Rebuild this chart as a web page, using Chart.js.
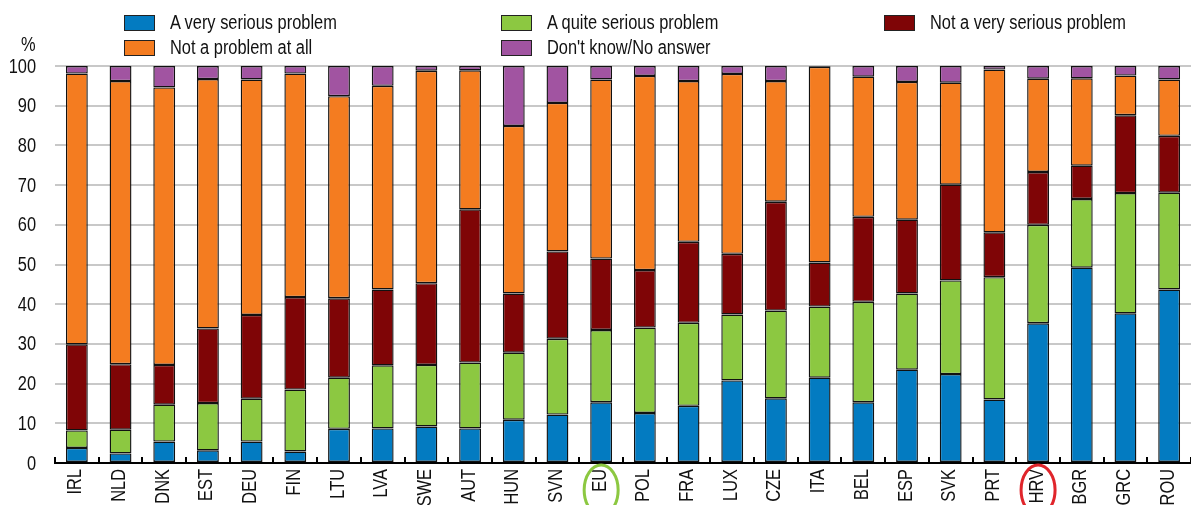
<!DOCTYPE html>
<html>
<head>
<meta charset="utf-8">
<script src="https://cdn.jsdelivr.net/npm/chart.js@4.4.1/dist/chart.umd.min.js"></script>
<style>
body{margin:0;background:#fff;}
#wrap{position:relative;width:1191px;height:505px;overflow:hidden;font-family:"Liberation Sans",Arial,sans-serif;}
#wrap canvas{position:absolute;left:0;top:0;}
.lg{position:absolute;font-size:20px;line-height:20px;color:#111;white-space:nowrap;}
.lg i{position:absolute;width:29px;height:14px;border:1px solid #222;left:-46px;top:3px;}
.lg span{display:inline-block;transform:scaleX(0.82);transform-origin:0 50%;}
#pct{position:absolute;left:21px;top:33px;font-size:20px;color:#111;transform:scaleX(0.82);transform-origin:0 50%;}
</style>
</head>
<body>
<div id="wrap">
<canvas id="chart" width="1191" height="505"></canvas>
<div id="pct">%</div>
<div id="legend"></div>
</div>
<script>
// categories and series (share of respondents, %)
const countries=['IRL','NLD','DNK','EST','DEU','FIN','LTU','LVA','SWE','AUT','HUN','SVN','EU','POL','FRA','LUX','CZE','ITA','BEL','ESP','SVK','PRT','HRV','BGR','GRC','ROU']
const verySerious=[3.8,2.4,5.4,3.2,5.4,2.9,8.6,8.7,9.2,8.7,10.9,12.2,15.3,12.6,14.4,20.8,16.3,21.5,15.3,23.5,22.4,16.0,35.2,49.2,37.7,43.7]
const quiteSerious=[4.4,6.0,9.3,11.9,10.8,15.6,12.9,15.9,15.5,16.6,16.9,19.1,18.2,21.5,20.9,16.6,22.1,17.9,25.3,19.2,23.6,30.8,24.8,17.3,30.3,24.4]
const notVerySerious=[21.7,16.5,10.0,18.8,21.1,23.3,20.0,19.1,20.6,38.6,14.9,22.0,18.0,14.5,20.4,15.3,27.4,11.1,21.4,18.6,24.1,11.3,13.3,8.4,19.6,14.3]
const notAtAll=[68.2,71.3,69.9,62.8,59.3,56.3,50.9,51.3,53.5,35.0,42.2,37.4,45.1,48.9,40.5,45.3,30.4,49.3,35.3,34.7,25.7,41.0,23.5,22.0,10.0,14.2]
const dontKnow=[1.9,3.8,5.4,3.3,3.4,1.9,7.6,5.0,1.2,1.1,15.1,9.3,3.4,2.5,3.8,2.0,3.8,0.2,2.7,4.0,4.2,0.9,3.2,3.1,2.4,3.4]
const yTicks=[0,10,20,30,40,50,60,70,80,90,100]

const FONT='20px "Liberation Sans", Arial, sans-serif'
const NARROW=0.82 // no narrow font installed, squeeze the regular one
const series=[
{label:'A very serious problem',data:verySerious,color:'#037bc1',col:0,row:0},
{label:'A quite serious problem',data:quiteSerious,color:'#8cc841',col:1,row:0},
{label:'Not a very serious problem',data:notVerySerious,color:'#7f0506',col:2,row:0},
{label:'Not a problem at all',data:notAtAll,color:'#f47c20',col:0,row:1},
{label:"Don't know/No answer",data:dontKnow,color:'#a154a1',col:1,row:1},
]

// legend laid out in three columns like the original
const colX=[170,547,930]
const rowY=[12,37]
const lg=document.getElementById('legend')
series.forEach(s=>{
const d=document.createElement('div')
d.className='lg'
d.style.left=colX[s.col]+'px'
d.style.top=rowY[s.row]+'px'
d.innerHTML='<i style="background:'+s.color+'"></i><span>'+s.label.replace(/'/g,'&#39;')+'</span>'
lg.appendChild(d)
})

// tick labels (condensed), upward tick marks between categories, circled labels
const extras={
id:'extras',
afterDraw(chart){
const ctx=chart.ctx
const x=chart.scales.x
const y=chart.scales.y
const b=chart.chartArea.bottom
ctx.save()
ctx.fillStyle='#111'
ctx.font=FONT
ctx.textBaseline='middle'
ctx.textAlign='right'
yTicks.forEach(v=>{
ctx.save()
ctx.translate(36,y.getPixelForValue(v)+1)
ctx.scale(NARROW,1)
ctx.fillText(String(v),0,0)
ctx.restore()
})
countries.forEach((c,i)=>{
ctx.save()
ctx.translate(x.getPixelForValue(i)-1,b+6)
ctx.rotate(-Math.PI/2)
ctx.scale(NARROW,1)
ctx.fillText(c,0,0)
ctx.restore()
})
ctx.strokeStyle='#000'
ctx.lineWidth=2
for(let i=0;i<=countries.length;i++){
const px=Math.round(x.getPixelForValue(i-0.5))
ctx.beginPath()
ctx.moveTo(px,b)
ctx.lineTo(px,b-6)
ctx.stroke()
}
const rings=[['EU','#8cc841'],['HRV','#e0252b']]
rings.forEach(r=>{
const cx=x.getPixelForValue(countries.indexOf(r[0]))
ctx.strokeStyle=r[1]
ctx.lineWidth=3
ctx.beginPath()
ctx.ellipse(cx,b+27,17,25,0,0,Math.PI*2)
ctx.stroke()
})
ctx.restore()
}
}

new Chart(document.getElementById('chart'),{
type:'bar',
data:{
labels:countries,
datasets:series.map(s=>({
label:s.label,
data:s.data,
backgroundColor:s.color,
borderColor:'#111',
borderWidth:1.4,
borderSkipped:false,
barPercentage:0.5,
categoryPercentage:1
}))
},
options:{
responsive:false,
animation:false,
layout:{padding:{top:66,right:0,left:0,bottom:0}},
plugins:{legend:{display:false},tooltip:{enabled:false}},
scales:{
x:{
stacked:true,
grid:{display:false},
border:{display:true,color:'#000',width:2},
ticks:{display:false},
afterFit(s){s.height=42}
},
y:{
stacked:true,
min:0,
max:100,
afterBuildTicks(s){s.ticks=yTicks.map(v=>({value:v}))},
grid:{color:'#c8c8c8',lineWidth:2,drawTicks:false},
border:{display:false},
ticks:{display:false},
afterFit(s){s.width=55}
}
}
},
plugins:[extras]
})
</script>
</body>
</html>
